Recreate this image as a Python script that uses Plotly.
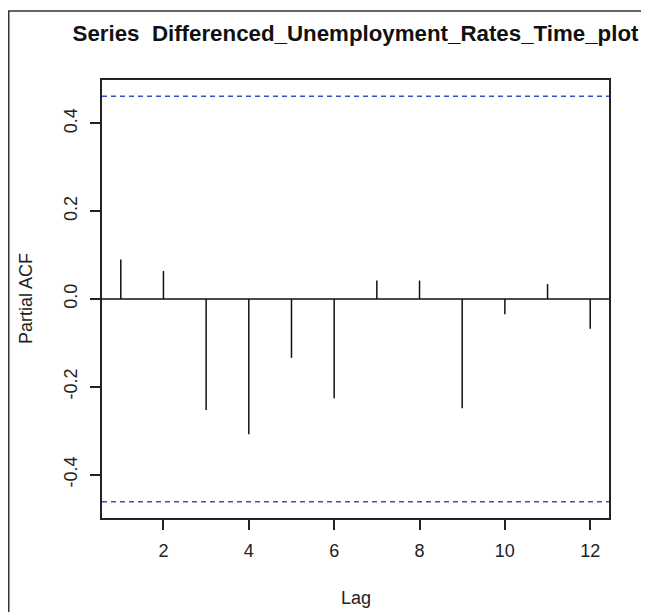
import plotly.graph_objects as go

lags = [1, 2, 3, 4, 5, 6, 7, 8, 9, 10, 11, 12]
pacf_values = [0.090, 0.064, -0.253, -0.308, -0.134, -0.226, 0.042, 0.042, -0.249, -0.035, 0.034, -0.068]
n_obs = 18
conf_limit = 1.96 / n_obs ** 0.5
y_ticks = [-0.4, -0.2, 0.0, 0.2, 0.4]
y_tick_labels = ["-0.4", "-0.2", "0.0", "0.2", "0.4"]
x_ticks = [2, 4, 6, 8, 10, 12]
title_text = "Series \u00a0Differenced_Unemployment_Rates_Time_plot"
x_label = "Lag"
y_label = "Partial ACF"

xs, ys = [], []
for lag, v in zip(lags, pacf_values):
    xs += [lag, lag, None]
    ys += [0, v, None]

x_lo = lags[0] - 0.04 * (lags[-1] - lags[0])
x_hi = lags[-1] + 0.04 * (lags[-1] - lags[0])
y_lo = -conf_limit * 1.08
y_hi = conf_limit * 1.08

fig = go.Figure()
fig.add_trace(go.Scatter(x=[x_lo, x_hi], y=[0, 0], mode="lines",
                         line=dict(color="#111", width=1.5), hoverinfo="skip"))
fig.add_trace(go.Scatter(x=xs, y=ys, mode="lines",
                         line=dict(color="#111", width=1.5)))
for c in (conf_limit, -conf_limit):
    fig.add_trace(go.Scatter(x=[x_lo, x_hi], y=[c, c], mode="lines",
                             line=dict(color="#3d4fc6", width=1.5, dash="5px,4px"),
                             hoverinfo="skip"))

font_family = "Liberation Sans, Arial, sans-serif"
W, H = 641, 604
L, R, T, B = 94, 40, 72, 94
PW, PH = W - L - R, H - T - B
plot_bottom = T + PH

fig.update_layout(
    width=W, height=H,
    margin=dict(l=L, r=R, t=T, b=B),
    paper_bgcolor="white", plot_bgcolor="white",
    showlegend=False,
    font=dict(family=font_family, size=18, color="#222"),
    title=dict(text="<b>" + title_text + "</b>", x=347.5 / W, xanchor="center",
               y=1 - 25 / H, yanchor="middle",
               font=dict(family=font_family, size=22.3, color="#111")),
    xaxis=dict(range=[x_lo, x_hi], tickvals=x_ticks, ticks="outside", ticklen=10,
               tickwidth=1.5, tickcolor="#222", showline=True, linecolor="#222",
               linewidth=1.5, mirror=True, showgrid=False, zeroline=False,
               tickfont=dict(size=18), ticklabelstandoff=6),
    yaxis=dict(range=[y_lo, y_hi], tickvals=y_ticks, ticktext=y_tick_labels,
               ticks="outside", ticklen=10, tickwidth=1.5, tickcolor="#222",
               tickangle=-90, showline=True, linecolor="#222", linewidth=1.5,
               mirror=True, showgrid=False, zeroline=False,
               tickfont=dict(size=18), ticklabelstandoff=6),
    annotations=[
        dict(text=x_label, xref="paper", yref="paper", x=0.5,
             y=(plot_bottom - 590) / PH, xanchor="center", yanchor="middle",
             showarrow=False, font=dict(size=18)),
        dict(text=y_label, xref="paper", yref="paper", x=(18 - L) / PW,
             y=0.5, xanchor="center", yanchor="middle", textangle=-90,
             showarrow=False, font=dict(size=18)),
    ],
    shapes=[
        dict(type="rect", xref="paper", yref="paper", layer="above",
             x0=(0.75 - L) / PW, x1=1.3, y0=-0.3, y1=(plot_bottom - 3) / PH,
             line=dict(color="#333", width=1.5), fillcolor="rgba(0,0,0,0)"),
    ],
)

fig.write_html("out.html")
